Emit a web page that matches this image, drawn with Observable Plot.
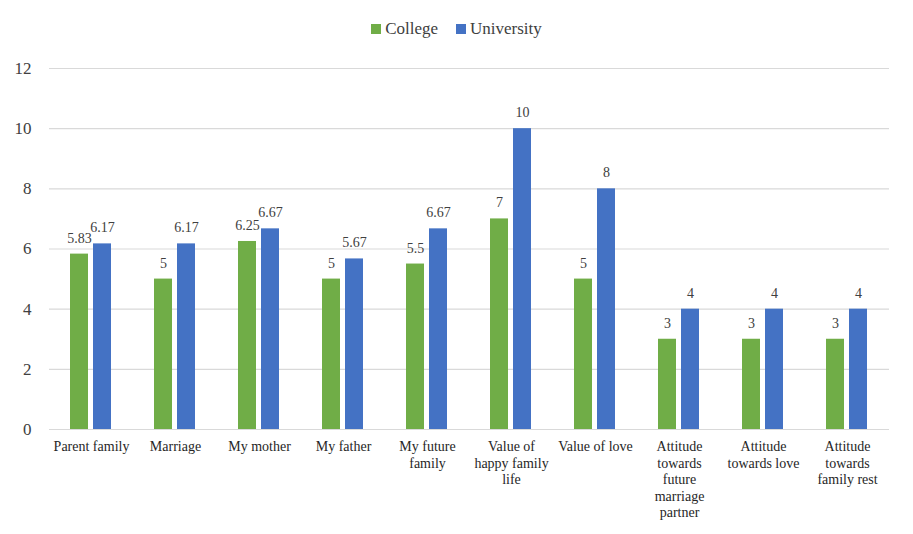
<!DOCTYPE html>
<html>
<head>
<meta charset="utf-8">
<script src="https://cdn.jsdelivr.net/npm/d3@7"></script>
<script src="https://cdn.jsdelivr.net/npm/@observablehq/plot@0.6"></script>
<style>
  html, body { margin: 0; padding: 0; background: #fff; }
  body { width: 913px; height: 534px; overflow: hidden; font-family: "Liberation Serif", "Times New Roman", serif; }
  #legend { height: 50px; display: flex; justify-content: center; align-items: center; gap: 18px; font-size: 17px; color: #404040; padding-top: 8px; box-sizing: border-box; }
  #legend span.item { display: inline-flex; align-items: center; }
  #legend span.sw { display: inline-block; width: 10px; height: 10px; margin-right: 4px; }
  #chart svg text { font-family: "Liberation Serif", "Times New Roman", serif; }
</style>
</head>
<body>
<div id="legend"></div>
<div id="chart"></div>
<script>
const categories = ["Parent family", "Marriage", "My mother", "My father", "My future family",
  "Value of happy family life", "Value of love", "Attitude towards future marriage partner",
  "Attitude towards love", "Attitude towards family rest"];
const tickLabels = ["Parent family", "Marriage", "My mother", "My father", "My future\nfamily",
  "Value of\nhappy family\nlife", "Value of love", "Attitude\ntowards\nfuture\nmarriage\npartner",
  "Attitude\ntowards love", "Attitude\ntowards\nfamily rest"];
const seriesNames = ["College", "University"];
const college = [5.83, 5, 6.25, 5, 5.5, 7, 5, 3, 3, 3];
const university = [6.17, 6.17, 6.67, 5.67, 6.67, 10, 8, 4, 4, 4];
const yTicks = [0, 2, 4, 6, 8, 10, 12];
const colors = ["#70AD47", "#4472C4"];

const data = [];
categories.forEach((c, i) => {
  data.push({category: c, series: seriesNames[0], value: college[i]});
  data.push({category: c, series: seriesNames[1], value: university[i]});
});
const labelMap = Object.fromEntries(categories.map((c, i) => [c, tickLabels[i]]));

const legend = document.getElementById("legend");
seriesNames.forEach((s, i) => {
  const item = document.createElement("span");
  item.className = "item";
  const sw = document.createElement("span");
  sw.className = "sw";
  sw.style.background = colors[i];
  item.appendChild(sw);
  item.appendChild(document.createTextNode(s));
  legend.appendChild(item);
});

const chart = Plot.plot({
  width: 913,
  height: 484,
  marginLeft: 48,
  marginRight: 23,
  marginTop: 18,
  marginBottom: 105,
  style: {fontFamily: "'Liberation Serif', 'Times New Roman', serif", color: "#404040", background: "#fff"},
  fx: {domain: categories, padding: 0, axis: null},
  x: {domain: seriesNames, paddingInner: 0.208, paddingOuter: 0.858, axis: null},
  y: {domain: [0, 12], ticks: yTicks},
  color: {domain: seriesNames, range: colors},
  marks: [
    Plot.ruleY(yTicks, {stroke: "#d9d9d9", strokeWidth: 1.2}),
    Plot.barY(data, {fx: "category", x: "series", y: "value", fill: "series"}),
    Plot.text(data, {fx: "category", x: "series", y: "value", text: d => String(d.value), dy: -16, fontSize: 14, fill: "#404040"}),
    Plot.axisY({ticks: yTicks, tickSize: 0, tickPadding: 18, fontSize: 17, label: null, fill: "#404040"}),
    Plot.axisFx({anchor: "bottom", tickFormat: d => labelMap[d], tickSize: 0, tickPadding: 10, fontSize: 14, lineHeight: 1.18, lineAnchor: "top", label: null, fill: "#262626"})
  ]
});
document.getElementById("chart").appendChild(chart);
</script>
</body>
</html>
